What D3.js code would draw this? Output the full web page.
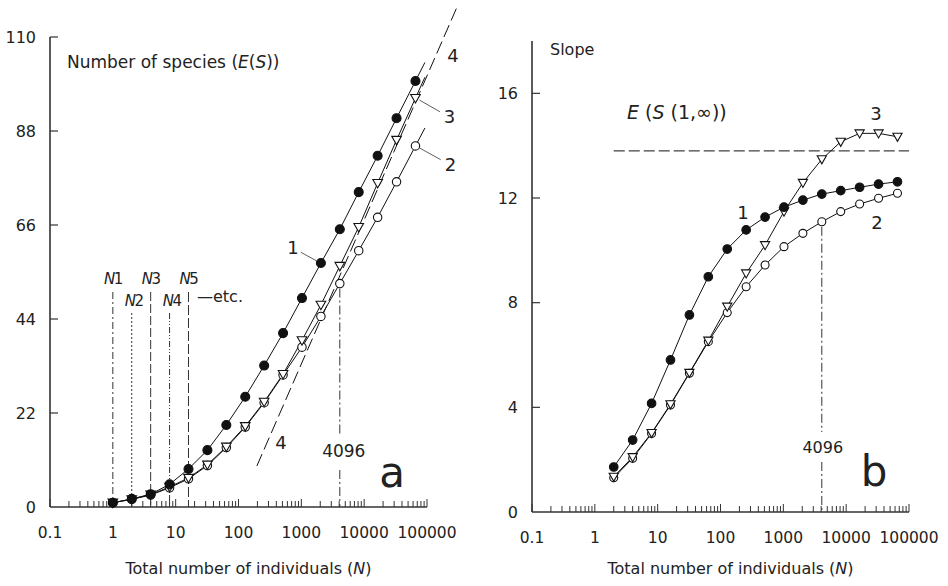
<!DOCTYPE html>
<html lang="en">
    <head>
        <title>Species accumulation and slope</title>
        <script src="https://d3js.org/d3.v7.min.js"></script>
        <style>
            body { margin: 0; background: #fff; }
            text { font-family: 'DejaVu Sans', Verdana, sans-serif; fill: #222; }
        </style>
    </head>
    <body>
    <div id="mainDiv"></div>

        <script type="text/javascript">
            // panel a : number of species vs N
            const nA = [1, 2, 4, 8, 16, 32, 64, 128, 256, 512, 1024, 2048, 4096, 8192, 16384, 32768, 65536]
            const species1 = [1, 1.9, 3.0, 5.3, 8.9, 13.3, 19.2, 25.8, 33.1, 40.7, 48.9, 57.1, 65.0, 73.7, 82.2, 91.0, 99.7]
            const species2 = [1, 1.8, 2.8, 4.5, 6.6, 9.7, 13.9, 18.7, 24.4, 30.9, 37.4, 44.6, 52.3, 60.0, 67.8, 76.1, 84.5]
            const species3 = [1, 1.8, 2.9, 4.7, 6.8, 9.9, 14.1, 18.9, 24.6, 31.1, 39.0, 47.3, 56.4, 65.5, 75.8, 85.9, 95.7]
            const line4N = [196, 300000]
            const line4S = [9.6, 117]
            const yTicksA = [0, 22, 44, 66, 88, 110]

            // panel b : slope vs N
            const nB = [2, 4, 8, 16, 32, 64, 128, 256, 512, 1024, 2048, 4096, 8192, 16384, 32768, 65536]
            const slope1 = [1.72, 2.75, 4.15, 5.81, 7.53, 8.99, 10.05, 10.78, 11.27, 11.65, 11.92, 12.15, 12.28, 12.41, 12.53, 12.62]
            const slope2 = [1.31, 2.05, 3.0, 4.09, 5.30, 6.51, 7.62, 8.61, 9.44, 10.14, 10.65, 11.09, 11.48, 11.77, 11.99, 12.18]
            const slope3 = [1.35, 2.1, 3.02, 4.12, 5.32, 6.55, 7.85, 9.12, 10.2, 11.48, 12.58, 13.48, 14.15, 14.47, 14.47, 14.34]
            const asymptote = 13.8
            const asymptoteFrom = 2
            const yTicksB = [0, 4, 8, 12, 16]

            const xTickLabels = ['0.1', '1', '10', '100', '1000', '10000', '100000']
            const markN = [1, 2, 4, 8, 16]
            const markLabels = ['1', '2', '3', '4', '5']

            const width = 948
            const height = 586

            const svg = d3.select('#mainDiv').append('svg')
                .attr('width', width)
                .attr('height', height)

            const xA = d3.scaleLog().domain([0.1, 100000]).range([50, 427])
            const yA = d3.scaleLinear().domain([0, 110]).range([507, 37])
            const xB = d3.scaleLog().domain([0.1, 100000]).range([532, 909])
            const yB = d3.scaleLinear().domain([0, 18]).range([512, 41])

            const ink = '#111'

            function drawAxes(g, x, y, yTicks, yTop) {
                const x0 = x.range()[0], x1 = x.range()[1], y0 = y.range()[0]
                // x axis
                g.append('line').attr('x1', x0).attr('x2', x1).attr('y1', y0).attr('y2', y0)
                    .attr('stroke', '#333').attr('stroke-width', 1.6)
                for (let k = -1; k <= 5; k++) {
                    const base = Math.pow(10, k)
                    const steps = k < 5 ? [1, 2, 3, 4, 5, 6, 7, 8, 9] : [1]
                    steps.forEach(m => {
                        const px = x(m * base)
                        g.append('line').attr('x1', px).attr('x2', px)
                            .attr('y1', y0).attr('y2', y0 - (m === 1 ? 8 : 6))
                            .attr('stroke', '#333').attr('stroke-width', 1)
                    })
                }
                g.selectAll('.xlab').data(xTickLabels).enter().append('text')
                    .attr('x', (d, i) => x(Math.pow(10, i - 1)))
                    .attr('y', y0 + 31)
                    .attr('text-anchor', 'middle')
                    .style('font-size', '15.5px')
                    .text(d => d)
                g.append('text')
                    .attr('x', (x0 + x1) / 2 + 10)
                    .attr('y', 574)
                    .attr('text-anchor', 'middle')
                    .style('font-size', '16px')
                    .html('Total number of individuals (<tspan font-style="italic">N</tspan>)')
                // y axis
                g.append('line').attr('x1', x0).attr('x2', x0).attr('y1', y0).attr('y2', y(yTop))
                    .attr('stroke', '#333').attr('stroke-width', 1.6)
                yTicks.forEach(t => {
                    if (t > 0) {
                        g.append('line').attr('x1', x0).attr('x2', x0 + 8)
                            .attr('y1', y(t)).attr('y2', y(t))
                            .attr('stroke', '#333').attr('stroke-width', 1.2)
                    }
                    g.append('text')
                        .attr('x', x0 - 14)
                        .attr('y', y(t))
                        .attr('dy', '0.36em')
                        .attr('text-anchor', 'end')
                        .style('font-size', '16px')
                        .text(t)
                })
            }

            function drawSeries(g, x, y, ns, vals) {
                const pts = ns.map((n, i) => [x(n), y(vals[i])])
                g.append('path')
                    .attr('d', d3.line()(pts))
                    .attr('fill', 'none')
                    .attr('stroke', ink)
                    .attr('stroke-width', 1)
                return pts
            }

            function drawMarks(g, pts, kind, r) {
                if (kind === 'tri') {
                    const s = r + 0.6
                    g.selectAll(null).data(pts).enter().append('path')
                        .attr('d', d => `M${d[0] - s},${d[1] - s * 0.75}L${d[0] + s},${d[1] - s * 0.75}L${d[0]},${d[1] + s}Z`)
                        .attr('fill', '#fff')
                        .attr('stroke', ink)
                        .attr('stroke-width', 1.1)
                } else {
                    g.selectAll(null).data(pts).enter().append('circle')
                        .attr('cx', d => d[0]).attr('cy', d => d[1])
                        .attr('r', r)
                        .attr('fill', kind === 'filled' ? ink : '#fff')
                        .attr('stroke', ink)
                        .attr('stroke-width', 1.1)
                }
            }

            // ---------- panel a ----------
            const gA = svg.append('g')
            drawAxes(gA, xA, yA, yTicksA, 110)

            gA.append('text').attr('x', 67).attr('y', 68).style('font-size', '17px')
                .html('Number of species (<tspan font-style="italic">E</tspan>(<tspan font-style="italic">S</tspan>))')

            // N1..N5 marker lines
            const dashes = ['7,3,2,3', '2,2', '9,3', '6,2,1,2,1,2', '10,3']
            markN.forEach((n, i) => {
                const top = i % 2 === 0 ? 292 : 313
                gA.append('line').attr('x1', xA(n)).attr('x2', xA(n))
                    .attr('y1', top).attr('y2', yA(0))
                    .attr('stroke', '#333').attr('stroke-width', 1)
                    .attr('stroke-dasharray', dashes[i])
                gA.append('text')
                    .attr('x', xA(n) + (i % 2 === 0 ? 0 : 2))
                    .attr('y', i % 2 === 0 ? 284 : 306)
                    .attr('text-anchor', 'middle')
                    .style('font-size', '15px')
                    .style('letter-spacing', '-1.5px')
                    .html(`<tspan font-style="italic">N</tspan>${markLabels[i]}`)
            })
            gA.append('text').attr('x', 197).attr('y', 302).style('font-size', '16px').text('\u2014etc.')

            // line 4 (asymptote of curve 3)
            gA.append('line')
                .attr('x1', xA(line4N[0])).attr('y1', yA(line4S[0]))
                .attr('x2', xA(line4N[1])).attr('y2', yA(line4S[1]))
                .attr('stroke', ink).attr('stroke-width', 1)
                .attr('stroke-dasharray', '13,5')

            // 4096 reference line
            const xr = xA(4096)
            gA.append('line').attr('x1', xr).attr('x2', xr)
                .attr('y1', yA(species2[12]) + 5).attr('y2', 436)
                .attr('stroke', '#333').attr('stroke-width', 1).attr('stroke-dasharray', '9,3,2,3')
            gA.append('line').attr('x1', xr).attr('x2', xr)
                .attr('y1', 470).attr('y2', yA(0))
                .attr('stroke', '#333').attr('stroke-width', 1).attr('stroke-dasharray', '9,3,2,3')
            gA.append('text').attr('x', xr + 4).attr('y', 457).attr('text-anchor', 'middle')
                .style('font-size', '17px').text('4096')

            const pA1 = drawSeries(gA, xA, yA, nA, species1)
            const pA2 = drawSeries(gA, xA, yA, nA, species2)
            const pA3 = drawSeries(gA, xA, yA, nA, species3)
            // short extension beyond the last point
            ;[pA1, pA2, pA3].forEach(p => {
                const a = p[p.length - 2], b = p[p.length - 1]
                gA.append('line').attr('x1', b[0]).attr('y1', b[1])
                    .attr('x2', b[0] + (b[0] - a[0]) * 0.5).attr('y2', b[1] + (b[1] - a[1]) * 0.5)
                    .attr('stroke', ink).attr('stroke-width', 1)
            })
            drawMarks(gA, pA2, 'open', 4.2)
            drawMarks(gA, pA3, 'tri', 4.2)
            drawMarks(gA, pA1, 'filled', 4.5)

            // curve labels
            const labA = [
                { t: '1', p: pA1[11], dx: -28, dy: -15 },
                { t: '3', p: pA3[16], dx: 34, dy: 19 },
                { t: '2', p: pA2[16], dx: 35, dy: 19 }
            ]
            labA.forEach(l => {
                gA.append('line')
                    .attr('x1', l.p[0] + (l.dx < 0 ? -4 : 4)).attr('y1', l.p[1] + (l.dx < 0 ? -2 : 2))
                    .attr('x2', l.p[0] + l.dx * 0.72).attr('y2', l.p[1] + l.dy * 0.72)
                    .attr('stroke', '#333').attr('stroke-width', 0.8)
                gA.append('text').attr('x', l.p[0] + l.dx).attr('y', l.p[1] + l.dy + 6)
                    .attr('text-anchor', 'middle').style('font-size', '18px').text(l.t)
            })
            gA.append('text').attr('x', 453).attr('y', 62).attr('text-anchor', 'middle')
                .style('font-size', '18px').text('4')
            gA.append('text').attr('x', 281).attr('y', 449).attr('text-anchor', 'middle')
                .style('font-size', '18px').text('4')
            gA.append('text').attr('x', 392).attr('y', 487).attr('text-anchor', 'middle')
                .style('font-size', '42px').text('a')

            // ---------- panel b ----------
            const gB = svg.append('g')
            drawAxes(gB, xB, yB, yTicksB, 18)

            gB.append('text').attr('x', 550).attr('y', 55).style('font-size', '16px').text('Slope')
            gB.append('text').attr('x', 627).attr('y', 119).style('font-size', '19px')
                .html('<tspan font-style="italic">E</tspan> (<tspan font-style="italic">S</tspan> (1,\u221e))')

            gB.append('line')
                .attr('x1', xB(asymptoteFrom)).attr('x2', xB.range()[1])
                .attr('y1', yB(asymptote)).attr('y2', yB(asymptote))
                .attr('stroke', ink).attr('stroke-width', 1)
                .attr('stroke-dasharray', '11,4')

            const xr2 = xB(4096)
            gB.append('line').attr('x1', xr2).attr('x2', xr2)
                .attr('y1', yB(slope2[11]) + 5).attr('y2', 432)
                .attr('stroke', '#333').attr('stroke-width', 1).attr('stroke-dasharray', '9,3,2,3')
            gB.append('line').attr('x1', xr2).attr('x2', xr2)
                .attr('y1', 462).attr('y2', yB(0))
                .attr('stroke', '#333').attr('stroke-width', 1).attr('stroke-dasharray', '9,3,2,3')
            gB.append('text').attr('x', xr2 + 1).attr('y', 453).attr('text-anchor', 'middle')
                .style('font-size', '16px').text('4096')

            const pB1 = drawSeries(gB, xB, yB, nB, slope1)
            const pB2 = drawSeries(gB, xB, yB, nB, slope2)
            const pB3 = drawSeries(gB, xB, yB, nB, slope3)
            drawMarks(gB, pB2, 'open', 4)
            drawMarks(gB, pB3, 'tri', 4)
            drawMarks(gB, pB1, 'filled', 4.3)

            gB.append('text').attr('x', 743).attr('y', 219).attr('text-anchor', 'middle')
                .style('font-size', '18px').text('1')
            gB.append('text').attr('x', 877).attr('y', 229).attr('text-anchor', 'middle')
                .style('font-size', '18px').text('2')
            gB.append('text').attr('x', 876).attr('y', 120).attr('text-anchor', 'middle')
                .style('font-size', '18px').text('3')
            gB.append('text').attr('x', 874).attr('y', 486).attr('text-anchor', 'middle')
                .style('font-size', '42px').text('b')
        </script>
    </body>
</html>
